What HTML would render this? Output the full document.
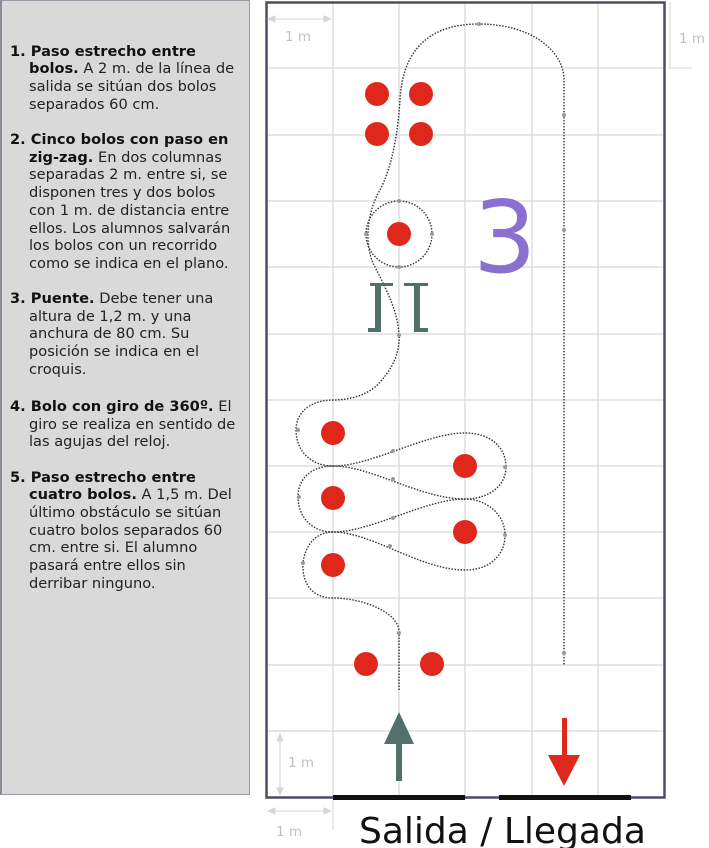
<!DOCTYPE html>
<html><head><meta charset="utf-8"><style>
html,body{margin:0;padding:0;background:#fff;width:709px;height:848px;overflow:hidden;position:relative}
#panel{position:absolute;left:0;top:0;width:247px;height:793px;background:#d9d9d9;border:1px solid #9a9aa6;border-left:2px solid #8c8c98}
.l{position:absolute;font-family:"DejaVu Sans","Liberation Sans",sans-serif;font-size:14.6px;color:#222;white-space:nowrap;line-height:18px}
.l b{color:#111}
svg{position:absolute;left:0;top:0}
</style></head><body>
<div id="panel"></div>
<div class="l" style="left:10px;top:43px"><b>1. Paso estrecho entre</b></div>
<div class="l" style="left:29px;top:60px"><b>bolos.</b> A 2 m. de la línea de</div>
<div class="l" style="left:29px;top:78px">salida se sitúan dos bolos</div>
<div class="l" style="left:29px;top:96px">separados 60 cm.</div>

<div class="l" style="left:10px;top:131px"><b>2. Cinco bolos con paso en</b></div>
<div class="l" style="left:29px;top:149px"><b>zig-zag.</b> En dos columnas</div>
<div class="l" style="left:29px;top:166px">separadas 2 m. entre si, se</div>
<div class="l" style="left:29px;top:184px">disponen tres y dos bolos</div>
<div class="l" style="left:29px;top:202px">con 1 m. de distancia entre</div>
<div class="l" style="left:29px;top:220px">ellos. Los alumnos salvarán</div>
<div class="l" style="left:29px;top:237px">los bolos con un recorrido</div>
<div class="l" style="left:29px;top:255px">como se indica en el plano.</div>

<div class="l" style="left:10px;top:290px"><b>3. Puente.</b> Debe tener una</div>
<div class="l" style="left:29px;top:308px">altura de 1,2 m. y una</div>
<div class="l" style="left:29px;top:325px">anchura de 80 cm. Su</div>
<div class="l" style="left:29px;top:343px">posición se indica en el</div>
<div class="l" style="left:29px;top:361px">croquis.</div>

<div class="l" style="left:10px;top:398px"><b>4. Bolo con giro de 360º.</b> El</div>
<div class="l" style="left:29px;top:416px">giro se realiza en sentido de</div>
<div class="l" style="left:29px;top:433px">las agujas del reloj.</div>

<div class="l" style="left:10px;top:469px"><b>5. Paso estrecho entre</b></div>
<div class="l" style="left:29px;top:486px"><b>cuatro bolos.</b> A 1,5 m. Del</div>
<div class="l" style="left:29px;top:504px">último obstáculo se sitúan</div>
<div class="l" style="left:29px;top:522px">cuatro bolos separados 60</div>
<div class="l" style="left:29px;top:539px">cm. entre si. El alumno</div>
<div class="l" style="left:29px;top:557px">pasará entre ellos sin</div>
<div class="l" style="left:29px;top:575px">derribar ninguno.</div>

<svg width="709" height="848" viewBox="0 0 709 848">
<g stroke="#d8d8d8" stroke-width="1.3">
<line x1="333" y1="2" x2="333" y2="797"/><line x1="399" y1="2" x2="399" y2="797"/>
<line x1="465" y1="2" x2="465" y2="797"/><line x1="532" y1="2" x2="532" y2="797"/>
<line x1="598" y1="2" x2="598" y2="797"/>
<line x1="266" y1="68" x2="665" y2="68"/><line x1="266" y1="135" x2="665" y2="135"/>
<line x1="266" y1="201" x2="665" y2="201"/><line x1="266" y1="267" x2="665" y2="267"/>
<line x1="266" y1="334" x2="665" y2="334"/><line x1="266" y1="400" x2="665" y2="400"/>
<line x1="266" y1="466" x2="665" y2="466"/><line x1="266" y1="532" x2="665" y2="532"/>
<line x1="266" y1="598" x2="665" y2="598"/><line x1="266" y1="665" x2="665" y2="665"/>
<line x1="266" y1="731" x2="665" y2="731"/>
</g>
<rect x="266.5" y="2.5" width="398" height="795" fill="none" stroke="#4e4b66" stroke-width="2.5"/>
<g stroke="#d6d6d6" stroke-width="1" fill="#d6d6d6">
<line x1="270" y1="19" x2="329" y2="19"/>
<polygon points="268,19 275,16 275,22"/><polygon points="331,19 324,16 324,22"/>
<line x1="668" y1="68" x2="692" y2="68"/><line x1="670" y1="2" x2="670" y2="68"/>
<line x1="280" y1="736" x2="280" y2="793"/>
<polygon points="280,734 277,741 283,741"/><polygon points="280,795 277,788 283,788"/>
<line x1="270" y1="811" x2="329" y2="811"/>
<polygon points="268,811 275,808 275,814"/><polygon points="331,811 324,808 324,814"/>
<line x1="333" y1="800" x2="333" y2="830"/>
</g>
<g font-family="DejaVu Sans, Liberation Sans, sans-serif" font-size="13.5" fill="#c0c0c0">
<text x="285" y="41">1 m</text><text x="679" y="43">1 m</text>
<text x="288" y="767">1 m</text><text x="276" y="836">1 m</text>
</g>
<rect x="333" y="795" width="132" height="5" fill="#111"/>
<rect x="499" y="795" width="132" height="5" fill="#111"/>
<g fill="none" stroke="#333" stroke-width="1.4" stroke-dasharray="1.5 1.5">
<path d="M399,690 L399,632 C399,612 362,598 333,598 C308,598 302,578 303,563 C305,545 316,532 333,532 C372,532 420,570 465,570 C490,570 505,555 505,535 C505,514 486,499 465,499 C425,499 372,532 333,532 C310,532 298,515 298,497 C298,478 312,466 333,466 C372,466 420,499 465,499 C490,499 506,485 506,467 C506,446 489,433 465,433 C425,433 372,466 333,466 C310,466 296,450 296,430 C296,412 311,400 333,400 C355,400 372,392 380,382 C393,368 400,352 399,335 C398,310 384,285 373,263 C365,245 366,214 380,190 C393,165 398,130 400,100 C402,60 420,24 479,24 C530,24 564,50 564,80 L564,665"/>
<circle cx="399" cy="234" r="33"/>
</g>
<g fill="#999">
<circle cx="479" cy="24" r="2"/><circle cx="399" cy="201" r="2"/><circle cx="399" cy="267" r="2"/>
<circle cx="366" cy="234" r="2"/><circle cx="432" cy="234" r="2"/><circle cx="399" cy="335" r="2"/>
<circle cx="399" cy="633" r="2"/><circle cx="564" cy="115" r="2"/><circle cx="564" cy="230" r="2"/>
<circle cx="564" cy="653" r="2"/><circle cx="298" cy="430" r="2"/><circle cx="299" cy="497" r="2"/>
<circle cx="303" cy="563" r="2"/><circle cx="505" cy="467" r="2"/><circle cx="505" cy="535" r="2"/>
<circle cx="393" cy="451" r="2"/><circle cx="393" cy="479" r="2"/><circle cx="393" cy="518" r="2"/><circle cx="390" cy="546" r="2"/>
</g>
<g fill="#e0271b">
<circle cx="377" cy="94" r="12"/><circle cx="421" cy="94" r="12"/>
<circle cx="377" cy="134" r="12"/><circle cx="421" cy="134" r="12"/>
<circle cx="399" cy="234" r="12"/>
<circle cx="333" cy="433" r="12"/><circle cx="465" cy="466" r="12"/>
<circle cx="333" cy="498" r="12"/><circle cx="465" cy="532" r="12"/>
<circle cx="333" cy="565" r="12"/>
<circle cx="366" cy="664" r="12"/><circle cx="432" cy="664" r="12"/>
</g>
<g fill="#52706a">
<rect x="370" y="283" width="23" height="3"/><rect x="404" y="283" width="24" height="3"/>
<rect x="375" y="284" width="6" height="46"/><rect x="414" y="284" width="6" height="46"/>
<rect x="368" y="328" width="13" height="4"/><rect x="414" y="328" width="14" height="4"/>
</g>
<text x="473" y="272" font-family="DejaVu Sans, Liberation Sans, sans-serif" font-size="100" fill="#8a70d0">3</text>
<rect x="396" y="742" width="6" height="39" fill="#52706a"/>
<polygon points="399,712 384,744 414,744" fill="#52706a"/>
<rect x="562" y="718" width="5" height="40" fill="#e0271b"/>
<polygon points="548,755 580,755 564,786" fill="#e0271b"/>
<text x="359" y="843" font-family="DejaVu Sans, Liberation Sans, sans-serif" font-size="36" fill="#111">Salida / Llegada</text>
</svg>
</body></html>
